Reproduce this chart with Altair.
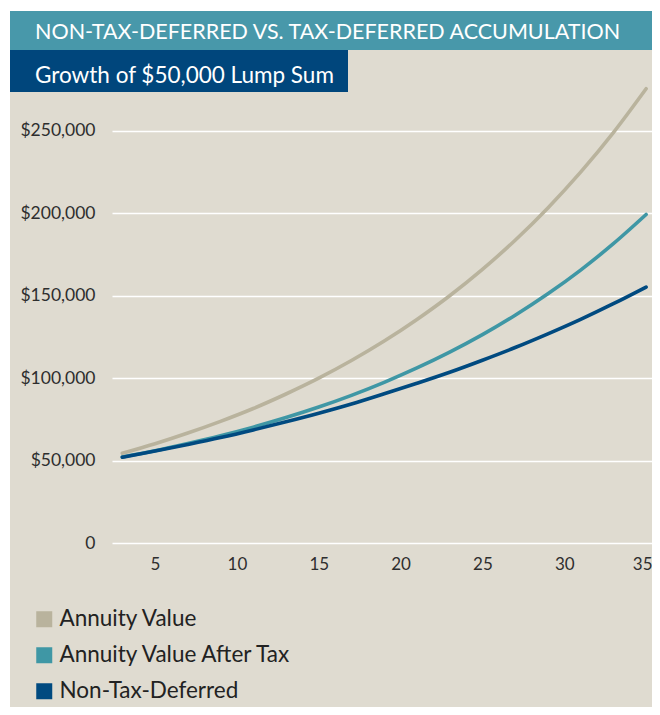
import altair as alt
import pandas as pd

# ---------------- data ----------------
years = [3, 5, 7, 9, 11, 13, 15, 17, 19, 21, 23, 25, 27, 29, 31, 33, 35]
annuity_value = [54400, 60200, 66700, 73800, 81600, 90400, 100000, 110700, 122500,
                 135600, 150000, 166000, 183700, 203300, 225000, 249000, 275600]
annuity_after_tax = [52200, 56000, 60400, 65100, 70300, 76100, 82500, 89600, 97500,
                     106200, 115800, 126400, 138200, 151200, 165600, 181600, 199300]
non_tax_deferred = [52000, 55800, 59800, 64000, 68600, 73500, 78700, 84300, 90500,
                    96900, 103600, 110900, 118600, 126900, 135700, 145200, 155300]

series_names = ["Annuity Value", "Annuity Value After Tax", "Non-Tax-Deferred"]
series_colors = ["#b9b39d", "#3f97a5", "#004a80"]
y_ticks = [0, 50000, 100000, 150000, 200000, 250000]
x_ticks = [5, 10, 15, 20, 25, 30, 35]
title_text = "NON-TAX-DEFERRED VS. TAX-DEFERRED ACCUMULATION"
subtitle_text = "Growth of $50,000 Lump Sum"

rows = []
for name, vals in zip(series_names, [annuity_value, annuity_after_tax, non_tax_deferred]):
    for yr, v in zip(years, vals):
        rows.append({"year": yr, "value": v, "series": name})
df = pd.DataFrame(rows)
one = pd.DataFrame({"k": [0]})

# ---------------- layout ----------------
L, T = 104, 74
W, H = 540, 461
R = 644 - L - W
B = 699 - T - H
FONT = "Lato"
BG = "#dfdbd0"

lines = alt.Chart(df).mark_line(strokeWidth=3.6, strokeCap="round", interpolate="monotone").encode(
    x=alt.X("year:Q",
            scale=alt.Scale(domain=[2.37, 35.36], nice=False, zero=False),
            axis=alt.Axis(values=x_ticks, title=None, grid=False, domain=False, ticks=False,
                          labelFontSize=17, labelPadding=13, labelFont=FONT, labelColor="#2e2e2e",
                          labelFlush=10, labelFlushOffset=6)),
    y=alt.Y("value:Q",
            scale=alt.Scale(domain=[0, 279700], nice=False),
            axis=alt.Axis(values=y_ticks, title=None, grid=True, gridColor="white", gridWidth=1.7,
                          domain=False, ticks=False, labelFontSize=17.5, labelPadding=17,
                          labelFont=FONT, labelColor="#2e2e2e",
                          labelExpr="datum.value == 0 ? '0' : '$' + format(datum.value, ',')")),
    color=alt.Color("series:N",
                    scale=alt.Scale(domain=series_names, range=series_colors),
                    legend=alt.Legend(title=None, orient="none", legendX=-79, legendY=526,
                                      symbolType="square", symbolSize=64, symbolStrokeWidth=8,
                                      labelFontSize=22.5, labelFont=FONT, labelColor="#222222",
                                      rowPadding=-5, labelOffset=4, labelLimit=400, padding=0)),
)

white_top = alt.Chart(one).mark_rect(color="white").encode(
    x=alt.value(-104), x2=alt.value(548), y=alt.value(-74), y2=alt.value(-71))
white_left = alt.Chart(one).mark_rect(color="white").encode(
    x=alt.value(-104), x2=alt.value(-102), y=alt.value(-74), y2=alt.value(633))
band = alt.Chart(one).mark_rect(color="#4898aa").encode(
    x=alt.value(-102), x2=alt.value(548), y=alt.value(-71), y2=alt.value(-32))
box = alt.Chart(one).mark_rect(color="#00467c").encode(
    x=alt.value(-102), x2=alt.value(236), y=alt.value(-32), y2=alt.value(10))
title = alt.Chart(one).mark_text(align="left", baseline="alphabetic", font=FONT, fontSize=21.5,
                                 color="white").encode(
    x=alt.value(-77), y=alt.value(-43), text=alt.value(title_text))
subtitle = alt.Chart(one).mark_text(align="left", baseline="alphabetic", font=FONT, fontSize=22.5,
                                    color="white").encode(
    x=alt.value(-77), y=alt.value(1), text=alt.value(subtitle_text))

chart = alt.layer(white_top, white_left, band, box, lines, title, subtitle).properties(
    width=W, height=H,
    padding={"left": L, "top": T, "right": R, "bottom": B},
    autosize=alt.AutoSizeParams(type="none"),
    background=BG,
).configure_view(stroke=None)

chart.save("out.html", embed_options={"renderer": "svg", "actions": False})
